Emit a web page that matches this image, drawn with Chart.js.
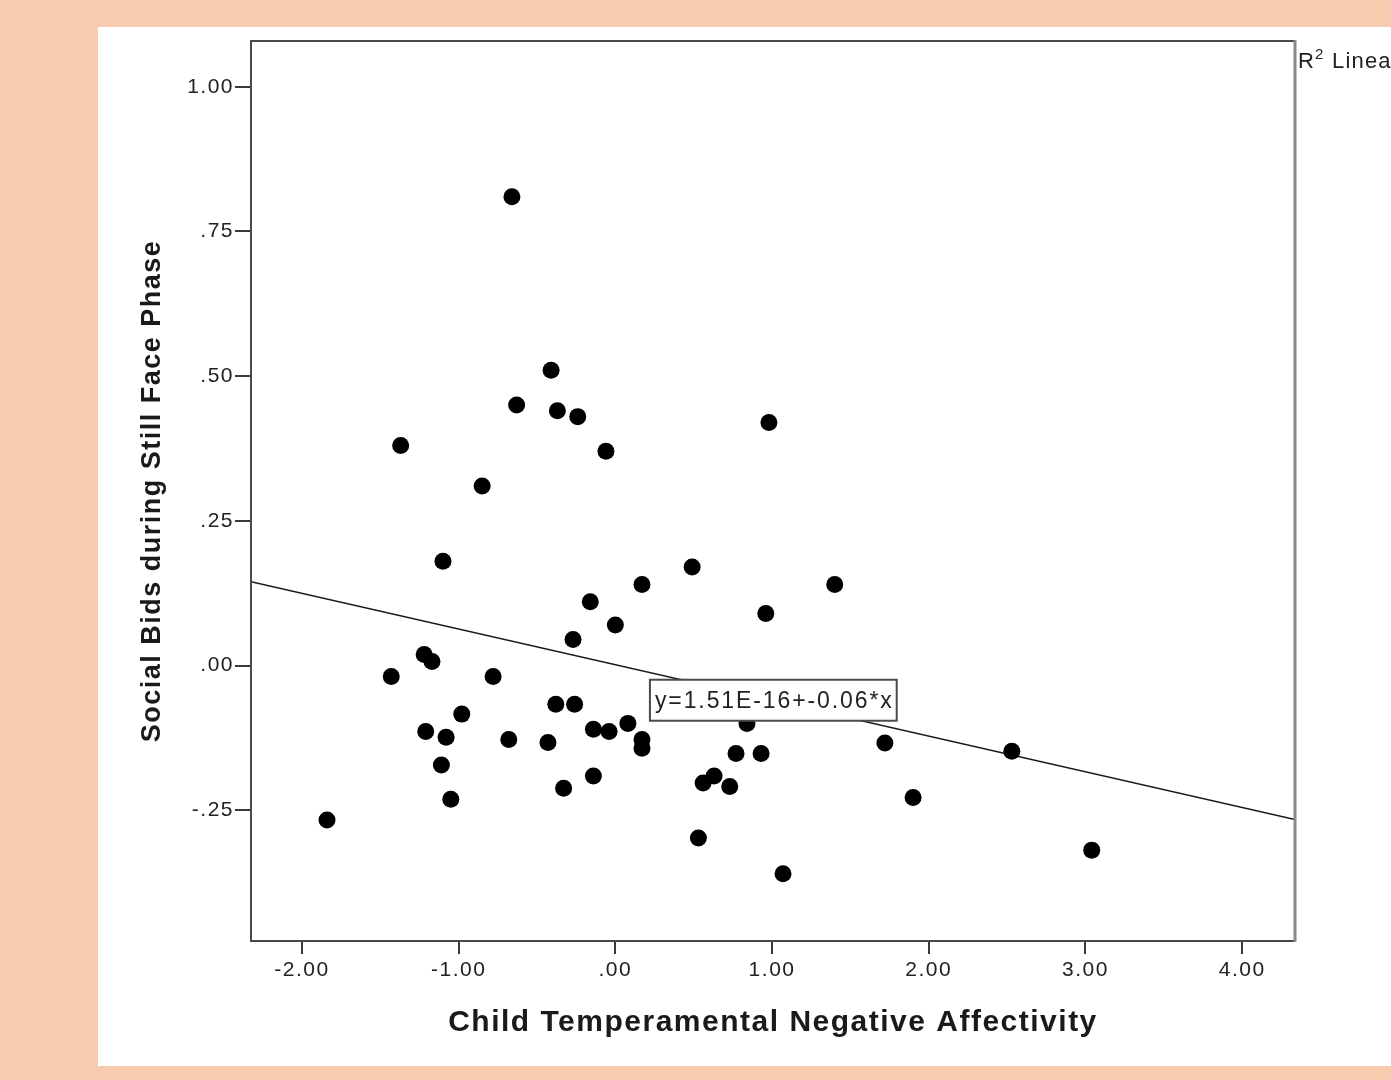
<!DOCTYPE html>
<html>
<head>
<meta charset="utf-8">
<script src="https://cdn.jsdelivr.net/npm/chart.js@4.4.1/dist/chart.umd.min.js"></script>
<style>
  body { margin: 0; background: #f7cbad; width: 1391px; height: 1080px; overflow: hidden; }
  #panel { position: absolute; left: 98px; top: 27px; width: 1293px; height: 1039px; background: #ffffff; }
</style>
</head>
<body>
<div id="panel"><canvas id="scatter" width="1293" height="1039"></canvas></div>
<script>
// values
const negAffect = [-0.66, -0.41, -0.63, -0.37, -0.24, -0.06, -1.37, -0.85, 0.98, -1.10,
    0.49, 1.40, 0.17, -0.16, 0.96, 0.00, -0.27, -1.22, -1.17, -1.43,
    -0.78, -0.38, -0.26, -0.98, -1.21, -1.08, -0.68, -0.43, -0.14, -0.04,
    0.08, 0.17, 0.17, 0.84, 0.77, 0.93, 1.72, 2.53, 0.56, 0.63,
    0.73, 1.90, 0.53, 1.07, 3.04, -1.84, -1.11, -1.05, -0.14, -0.33];
const socialBids = [0.81, 0.51, 0.45, 0.44, 0.43, 0.37, 0.38, 0.31, 0.42, 0.18,
    0.17, 0.14, 0.14, 0.11, 0.09, 0.07, 0.045, 0.019, 0.007, -0.019,
    -0.019, -0.067, -0.067, -0.084, -0.114, -0.124, -0.128, -0.133, -0.110, -0.114,
    -0.100, -0.128, -0.143, -0.100, -0.152, -0.152, -0.134, -0.148, -0.203, -0.191,
    -0.209, -0.228, -0.298, -0.360, -0.319, -0.267, -0.172, -0.231, -0.191, -0.212];

const fitIntercept = 0.0015;
const fitSlope = -0.0617;
const fitLabel = 'y=1.51E-16+-0.06*x';

const xTicks = [-2, -1, 0, 1, 2, 3, 4];
const xTickLabels = ['-2.00', '-1.00', '.00', '1.00', '2.00', '3.00', '4.00'];
const yTicks = [-0.25, 0, 0.25, 0.5, 0.75, 1.0];
const yTickLabels = ['-.25', '.00', '.25', '.50', '.75', '1.00'];

const xMin = -2.325, xMax = 4.337;
const yMin = -0.476, yMax = 1.079;

const FONT = '"Liberation Sans", Arial, sans-serif';

const points = negAffect.map((x, i) => ({ x: x, y: socialBids[i] }));
const fitLine = [xMin, xMax].map(x => ({ x: x, y: fitIntercept + fitSlope * x }));

const spssLook = {
    id: 'spssLook',
    beforeDraw(chart) {
        chart.ctx.letterSpacing = '1.5px';
    },
    afterDatasetsDraw(chart) {
        const ctx = chart.ctx;
        const a = chart.chartArea;
        ctx.save();
        // frame
        ctx.strokeStyle = '#4a4a4a';
        ctx.lineWidth = 2;
        ctx.beginPath();
        ctx.moveTo(a.right, a.top);
        ctx.lineTo(a.left, a.top);
        ctx.lineTo(a.left, a.bottom);
        ctx.lineTo(a.right, a.bottom);
        ctx.stroke();
        ctx.strokeStyle = '#8a8a8a';
        ctx.lineWidth = 3;
        ctx.beginPath();
        ctx.moveTo(a.right, a.top - 1);
        ctx.lineTo(a.right, a.bottom + 1);
        ctx.stroke();

        // equation label
        const cx = chart.scales.x.getPixelForValue(1.008);
        const cy = chart.scales.y.getPixelForValue(-0.06);
        ctx.font = '23px ' + FONT;
        ctx.letterSpacing = '1.9px';
        const w = ctx.measureText(fitLabel).width + 8;
        const h = 41;
        ctx.fillStyle = '#ffffff';
        ctx.fillRect(cx - w / 2, cy - h / 2, w, h);
        ctx.strokeStyle = '#4a4a4a';
        ctx.lineWidth = 2;
        ctx.strokeRect(cx - w / 2, cy - h / 2, w, h);
        ctx.fillStyle = '#222222';
        ctx.textBaseline = 'middle';
        ctx.textAlign = 'left';
        ctx.fillText(fitLabel, cx - w / 2 + 5, cy + 1);

        // legend stub, cut off by the panel edge
        const lx = a.right + 3;
        ctx.font = '22px ' + FONT;
        ctx.letterSpacing = '1.2px';
        ctx.textBaseline = 'alphabetic';
        ctx.fillText('R', lx, 41);
        const rw = ctx.measureText('R').width;
        ctx.font = '15px ' + FONT;
        ctx.fillText('2', lx + rw, 32);
        const sw = ctx.measureText('2').width;
        ctx.font = '22px ' + FONT;
        ctx.fillText(' Linear', lx + rw + sw, 41);
        ctx.restore();
    }
};

new Chart(document.getElementById('scatter'), {
    type: 'scatter',
    data: {
        datasets: [
            {
                label: 'Observed',
                data: points,
                backgroundColor: '#000000',
                borderWidth: 0,
                pointRadius: 8.5,
                pointHoverRadius: 8.5
            },
            {
                type: 'line',
                label: 'Linear',
                data: fitLine,
                borderColor: '#1a1a1a',
                borderWidth: 1.5,
                pointRadius: 0,
                fill: false
            }
        ]
    },
    options: {
        responsive: false,
        animation: false,
        layout: { padding: { left: 0, right: 96, top: 14, bottom: 0 } },
        plugins: {
            legend: { display: false },
            tooltip: { enabled: false }
        },
        scales: {
            x: {
                type: 'linear',
                min: xMin,
                max: xMax,
                afterFit(scale) { scale.height = 125; },
                afterBuildTicks(scale) { scale.ticks = xTicks.map(v => ({ value: v })); },
                grid: { drawOnChartArea: false, drawTicks: true, tickLength: 13, color: '#3a3a3a', lineWidth: 2 },
                border: { display: false },
                ticks: {
                    padding: 4,
                    color: '#222222',
                    font: { family: FONT, size: 21 },
                    callback: (value, index) => xTickLabels[index]
                },
                title: {
                    display: true,
                    text: 'Child Temperamental Negative Affectivity',
                    color: '#1a1a1a',
                    font: { family: FONT, size: 30, weight: 'bold' },
                    padding: { top: 0, bottom: 25 }
                }
            },
            y: {
                type: 'linear',
                min: yMin,
                max: yMax,
                afterFit(scale) { scale.width = 153; },
                afterBuildTicks(scale) { scale.ticks = yTicks.map(v => ({ value: v })); },
                grid: { drawOnChartArea: false, drawTicks: true, tickLength: 16, color: '#3a3a3a', lineWidth: 2 },
                border: { display: false },
                ticks: {
                    padding: 1,
                    color: '#222222',
                    font: { family: FONT, size: 21 },
                    callback: (value, index) => yTickLabels[index]
                },
                title: {
                    display: true,
                    text: 'Social Bids during Still Face Phase',
                    color: '#1a1a1a',
                    font: { family: FONT, size: 27, weight: 'bold' },
                    padding: { top: 38, bottom: 0 }
                }
            }
        }
    },
    plugins: [spssLook]
});
</script>
</body>
</html>
